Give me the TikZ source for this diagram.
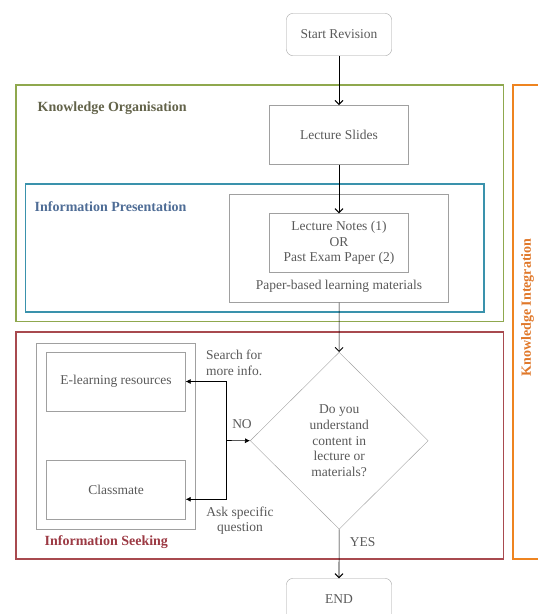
\documentclass[tikz,border=0pt]{standalone}
\usepackage{fontspec}
\setmainfont{Liberation Serif}
\usepackage{xcolor}
\usetikzlibrary{positioning,arrows.meta,shapes.geometric}
\definecolor{zonegreen}{HTML}{8FA84E}
\definecolor{zoneblue}{HTML}{3A92AC}
\definecolor{zonered}{HTML}{A84A4F}
\definecolor{zoneorange}{HTML}{EE8420}
\definecolor{kotext}{HTML}{63634A}
\definecolor{iptext}{HTML}{4F6D96}
\definecolor{istext}{HTML}{9C3A44}
\definecolor{kitext}{HTML}{E0782A}
\definecolor{boxline}{HTML}{A0A0A0}
\definecolor{boxtext}{HTML}{595959}

\begin{document}
\begin{tikzpicture}[x=1pt, y=-1pt, font=\fontsize{13.5}{15.6}\selectfont, text=boxtext,
		box/.style={draw=boxline, minimum width=139pt, minimum height=59pt, align=center},
		term/.style={draw=boxline, rounded corners=6pt, minimum width=105pt, minimum height=42pt},
		zone/.style={line width=1.8pt},
		lbl/.style={font=\fontsize{14}{16}\selectfont\bfseries, inner sep=0pt},
		flow/.style={draw=black, semithick, -{Straight Barb[length=4pt,width=8pt,line width=1pt]}},
		side/.style={draw=black, semithick, -{Latex[length=5pt,width=5pt]}}]
		\clip (0,0) rectangle (538,614);
		% zones
		\draw[zone, zonegreen] (16,85) rectangle (503.5,321.5);
		\draw[zone, zoneblue] (25.5,184) rectangle (484,312.3);
		\draw[zone, zonered] (16,331.7) rectangle (503.5,559.3);
		\draw[zone, zoneorange] (513,85) rectangle (580,559.3);
		\node[lbl, text=kotext, anchor=west] (kolbl) at (37.5,108) {Knowledge Organisation};
		\node[lbl, text=iptext, anchor=west] (iplbl) at (34.5,206.7) {Information Presentation};
		\node[lbl, text=istext, anchor=west] (islbl) at (44.5,542) {Information Seeking};
		\node[lbl, text=kitext, rotate=90] (kilbl) at (527.5,307.5) {Knowledge Integration};
		% main column
		\node[term] (start) at (339,34.5) {Start Revision};
		\node[box] (slides) at (339,134.8) {Lecture Slides};
		\node[draw=boxline, minimum width=219pt, minimum height=108pt] (paper) at (339,248.3) {};
		\node[box] (notes) at (339,243) {Lecture Notes (1)\\OR\\Past Exam Paper (2)};
		\node (papertxt) at (339,286) {Paper-based learning materials};
		\node[diamond, draw=boxline, minimum width=178pt, minimum height=177pt, inner sep=0pt, align=center] (quest) at (339.2,440.7) {Do you\\understand\\content in\\lecture or\\materials?};
		\node[term] (finish) at (339,599.5) {END};
		% seeking side
		\node[draw=boxline, minimum width=159pt, minimum height=186.6pt] (seek) at (116,436) {};
		\node[box] (elearn) at (116,381.5) {E-learning resources};
		\node[box] (mate) at (116,489.8) {Classmate};
		\coordinate (fork) at (226.5,440.5);
		% connectors
		\draw[flow] (start) -- (slides);
		\draw[flow] (slides) -- (notes);
		\draw[flow] (paper) -- (quest);
		\draw[flow] (quest) -- (finish);
		\draw[side] (fork) -- (quest.west);
		\draw[side] (fork) |- (elearn.east);
		\draw[side] (fork) |- ([yshift=-9.5pt]mate.east);
		\node[align=left, anchor=west] (searchtxt) at (202.5,363) {Search for\\more info.};
		\node (notxt) at (242,424) {NO};
		\node[align=center] (asktxt) at (240,520.7) {Ask specific\\question};
		\node (yestxt) at (362.7,542) {YES};
	\end{tikzpicture}
\end{document}
